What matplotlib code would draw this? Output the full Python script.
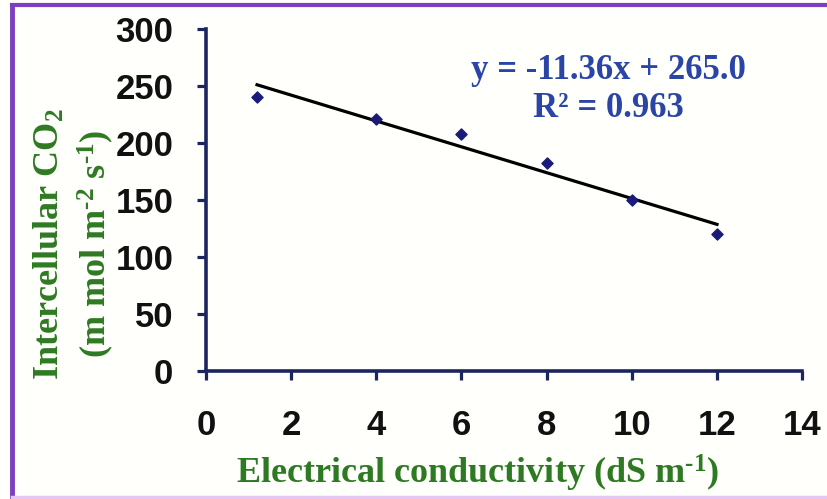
import matplotlib
matplotlib.use("Agg")
import matplotlib.pyplot as plt
from matplotlib.lines import Line2D

# 电导率 (dS m-1) 与胞间 CO2 浓度
ec = [1.2, 4, 6, 8, 10, 12]
ci = [241, 221, 208, 183, 150, 120]

# 线性拟合结果
slope = -11.36
intercept = 265.0
r2 = 0.963

x_ticks = [0, 2, 4, 6, 8, 10, 12, 14]
y_ticks = [0, 50, 100, 150, 200, 250, 300]

plt.rcParams['mathtext.fontset'] = 'custom'
plt.rcParams['mathtext.rm'] = 'Liberation Serif:bold'
plt.rcParams['mathtext.default'] = 'rm'

navy = '#1b2660'
green = '#2e7a22'
blue = '#2b45a6'
purple = '#7b3fc0'

fig = plt.figure(figsize=(8.27, 4.99), dpi=100)
fig.patch.set_facecolor('#fffffc')

# 外边框（左、上为紫色，下边较淡）
fig.add_artist(Line2D([0.0145, 0.0145], [0.0, 0.99], transform=fig.transFigure,
                      color=purple, linewidth=3.5))
fig.add_artist(Line2D([0.0145, 1.0], [0.99, 0.99], transform=fig.transFigure,
                      color=purple, linewidth=3))
fig.add_artist(Line2D([0.0145, 1.0], [0.004, 0.004], transform=fig.transFigure,
                      color='#e6c6f2', linewidth=2.5))

ax = fig.add_axes([0.249, 0.257, 0.721, 0.684])
ax.set_facecolor('none')

ax.scatter(ec, ci, marker='D', s=32, color='#1a1a78', zorder=3)

# 趋势线
x_line = [min(ec), max(ec)]
y_line = [slope * x + intercept for x in x_line]
ax.plot(x_line, y_line, color='black', linewidth=2.3, zorder=2)

ax.set_xlim(0, 14)
ax.set_ylim(0, 300)
ax.set_xticks(x_ticks)
ax.set_yticks(y_ticks)

for side in ['top', 'right']:
    ax.spines[side].set_visible(False)
for side in ['left', 'bottom']:
    ax.spines[side].set_color(navy)
    ax.spines[side].set_linewidth(2.6)

ax.tick_params(axis='both', direction='out', length=6.5, width=2.3, color=navy,
               labelsize=25)
ax.tick_params(axis='x', pad=21)
ax.tick_params(axis='y', pad=17)
for lab in ax.get_xticklabels() + ax.get_yticklabels():
    lab.set_fontfamily('Liberation Sans')
    lab.set_fontweight('bold')
    lab.set_color('#111111')

ax.set_xlabel(r'Electrical conductivity (dS m$^{\text{-}1}$)', fontsize=26,
              fontfamily='Liberation Serif', fontweight='bold', color=green)
ax.xaxis.set_label_coords(0.455, -0.24)
ax.set_ylabel('Intercellular CO$_{2}$\n' + r'(m mol m$^{\text{-}2}$ s$^{\text{-}1}$)',
              fontsize=26, fontfamily='Liberation Serif', fontweight='bold',
              color=green, linespacing=1.3)
ax.yaxis.set_label_coords(-0.15, 0.371)

eq_text = 'y = %.2fx + %.1f\nR² = %.3f' % (slope, intercept, r2)
ax.text(0.675, 0.825, eq_text, transform=ax.transAxes, ha='center', va='center',
        fontsize=25, fontfamily='Liberation Serif', fontweight='bold', color=blue,
        linespacing=1.2)

fig.savefig('out.png', dpi=100)
